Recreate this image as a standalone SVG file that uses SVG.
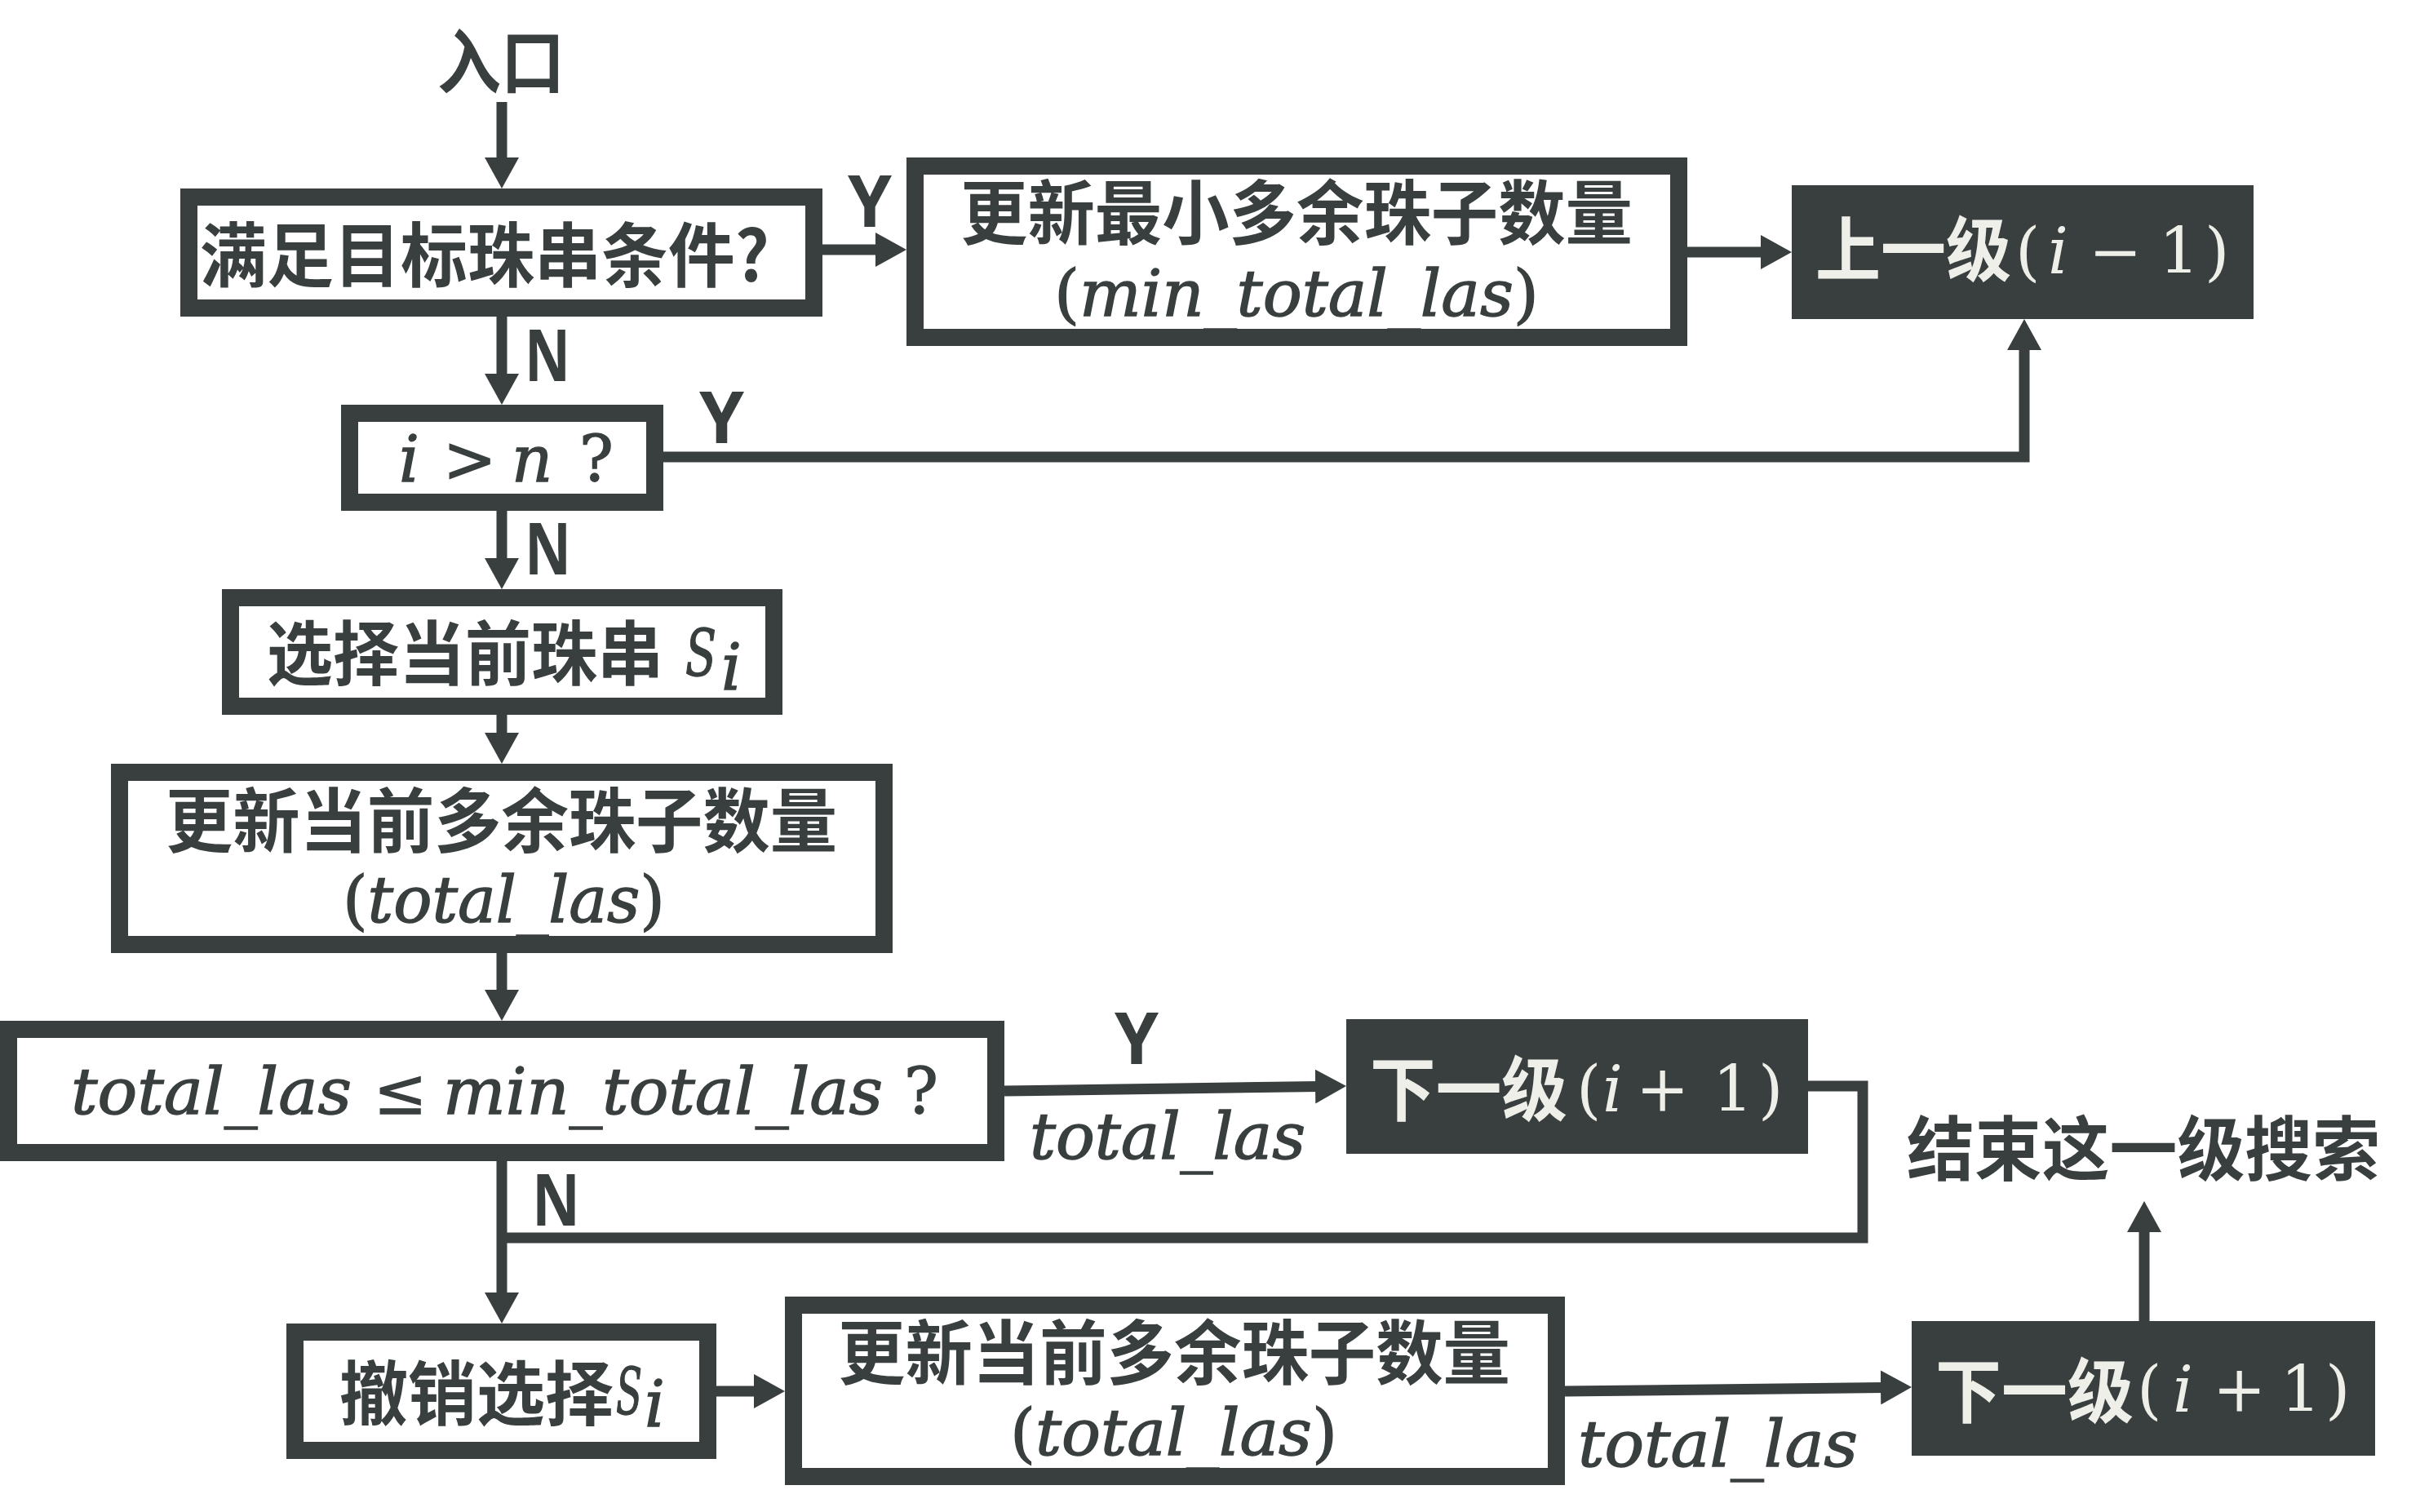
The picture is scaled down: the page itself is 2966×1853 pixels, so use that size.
<svg xmlns="http://www.w3.org/2000/svg" width="2966" height="1853" viewBox="0 0 2966 1853">
<style>
.box{fill:#ffffff;stroke:#393e3e;stroke-width:21}
.dbox{fill:#393e3e}
.cjk{font-family:"Noto Sans CJK SC",sans-serif;font-weight:700;font-size:86px;fill:#393e3e}
.m{font-family:"DejaVu Serif","Liberation Serif",serif;font-style:italic;font-size:78px;fill:#393e3e;stroke:#393e3e;stroke-width:1.4}
.u{font-family:"DejaVu Serif","Liberation Serif",serif;font-style:normal;font-size:78px;fill:#393e3e;stroke:#393e3e;stroke-width:1.4}
.lbl{font-family:"Noto Sans",sans-serif;font-weight:700;font-size:88px;fill:#393e3e}
.w{fill:#efefe9;stroke:none}
.c{fill:none;stroke:#393e3e;stroke-width:13;stroke-linejoin:miter}
.a{marker-end:url(#arr)}
</style>
<defs>
<marker id="arr" markerUnits="userSpaceOnUse" markerWidth="40" markerHeight="42" refX="4" refY="21" orient="auto">
<path d="M0,0 L38,21 L0,42 Z" fill="#393e3e"/>
</marker>
</defs>
<rect width="2966" height="1853" fill="#ffffff"/>

<g id="connectors">
<path class="c a" d="M615,125 V197"/>
<path class="c a" d="M1008,306 H1077"/>
<path class="c a" d="M2068,309 H2162"/>
<path class="c a" d="M615,388 V462"/>
<path class="c a" d="M813,560 H2481 V425"/>
<path class="c a" d="M615,626 V688"/>
<path class="c a" d="M615,876 V902"/>
<path class="c a" d="M615,1168 V1217"/>
<path class="c a" d="M1231,1337 L1616,1331.5"/>
<path class="c" d="M2216,1331 H2283 V1517 H615"/>
<path class="c a" d="M615,1423 V1588"/>
<path class="c a" d="M878,1705 H928"/>
<path class="c a" d="M1918,1705 L2309,1700.4"/>
<path class="c a" d="M2628,1619 V1506"/>
<text class="lbl" x="1039" y="278" textLength="54" lengthAdjust="spacingAndGlyphs">Y</text>
<text class="lbl" x="643" y="467" textLength="56" lengthAdjust="spacingAndGlyphs">N</text>
<text class="lbl" x="857" y="543" textLength="55" lengthAdjust="spacingAndGlyphs">Y</text>
<text class="lbl" x="643" y="704" textLength="57" lengthAdjust="spacingAndGlyphs">N</text>
<text class="lbl" x="1366" y="1304" textLength="54" lengthAdjust="spacingAndGlyphs">Y</text>
<text class="lbl" x="652" y="1502" textLength="59" lengthAdjust="spacingAndGlyphs">N</text>
<text class="m" x="1262" y="1420" font-size="80" textLength="338" lengthAdjust="spacingAndGlyphs">total_las</text>
<text class="m" x="1934" y="1797" font-size="80" textLength="343" lengthAdjust="spacingAndGlyphs">total_las</text>
</g>

<g id="entry">
<text class="cjk" x="536" y="108" textLength="156" lengthAdjust="spacingAndGlyphs">入口</text>
</g>

<g id="check-target">
<rect class="box" x="231.5" y="241.5" width="766" height="136"/>
<text class="cjk" x="245" y="345" textLength="698" lengthAdjust="spacingAndGlyphs">满足目标珠串条件?</text>
</g>

<g id="update-min">
<rect class="box" x="1121.5" y="203.5" width="936" height="210"/>
<text class="cjk" x="1177" y="293" textLength="824" lengthAdjust="spacingAndGlyphs">更新最小多余珠子数量</text>
<text class="m" x="1292" y="387" font-size="80" textLength="594" lengthAdjust="spacingAndGlyphs"><tspan class="u" font-size="80">(</tspan>min_total_las<tspan class="u" font-size="80">)</tspan></text>
</g>

<g id="up-level">
<rect class="dbox" x="2196" y="227" width="566" height="164"/>
<text class="cjk w" x="2225" y="338" textLength="240" lengthAdjust="spacingAndGlyphs">上一级</text>
<text class="u w" x="2470" y="335" font-size="82">(</text>
<text class="m w" x="2510" y="335" font-size="72">i</text>
<text class="u w" x="2560" y="335" font-size="72">−</text>
<text class="u w" x="2646" y="335" font-size="72">1</text>
<text class="u w" x="2702" y="335" font-size="82">)</text>
</g>

<g id="check-i">
<rect class="box" x="428.5" y="506.5" width="374" height="109"/>
<text class="m" x="489" y="590">i</text>
<text class="u" x="543" y="590">&gt;</text>
<text class="m" x="627" y="590">n</text>
<text class="u" x="710" y="590">?</text>
</g>

<g id="select">
<rect class="box" x="282.5" y="732.5" width="666" height="133"/>
<text class="cjk" x="327" y="833" textLength="486" lengthAdjust="spacingAndGlyphs">选择当前珠串</text>
<text class="m" x="840" y="828" font-size="78" textLength="38" lengthAdjust="spacingAndGlyphs">S</text>
<text class="m" x="884" y="845" font-size="54">i</text>
</g>

<g id="update-cur">
<rect class="box" x="146.5" y="946.5" width="937" height="211"/>
<text class="cjk" x="203" y="1038" textLength="823" lengthAdjust="spacingAndGlyphs">更新当前多余珠子数量</text>
<text class="m" x="420" y="1130" font-size="80" textLength="395" lengthAdjust="spacingAndGlyphs"><tspan class="u" font-size="80">(</tspan>total_las<tspan class="u" font-size="80">)</tspan></text>
</g>

<g id="compare">
<rect class="box" x="10.5" y="1261.5" width="1210" height="151"/>
<text class="m" x="87" y="1365" font-size="80" textLength="344" lengthAdjust="spacingAndGlyphs">total_las</text>
<text class="u" x="458" y="1365" font-size="80">≤</text>
<text class="m" x="543" y="1365" font-size="80" textLength="539" lengthAdjust="spacingAndGlyphs">min_total_las</text>
<text class="u" x="1108" y="1365" font-size="80">?</text>
</g>

<g id="next-level-1">
<rect class="dbox" x="1650" y="1249" width="566" height="165"/>
<text class="cjk w" x="1679" y="1367" textLength="242" lengthAdjust="spacingAndGlyphs">下一级</text>
<text class="u w" x="1932" y="1362" font-size="82">(</text>
<text class="m w" x="1964" y="1362" font-size="72">i</text>
<text class="u w" x="2005" y="1362" font-size="72">+</text>
<text class="u w" x="2099" y="1362" font-size="72">1</text>
<text class="u w" x="2155" y="1362" font-size="82">)</text>
</g>

<g id="end-search">
<text class="cjk" x="2337" y="1440" textLength="580" lengthAdjust="spacingAndGlyphs">结束这一级搜索</text>
</g>

<g id="undo">
<rect class="box" x="361.5" y="1632.5" width="506" height="145"/>
<text class="cjk" x="416" y="1740" textLength="336" lengthAdjust="spacingAndGlyphs">撤销选择</text>
<text class="m" x="755" y="1733" font-size="70" textLength="32" lengthAdjust="spacingAndGlyphs">S</text>
<text class="m" x="790" y="1748" font-size="50">i</text>
</g>

<g id="update-cur-2">
<rect class="box" x="972.5" y="1599.5" width="935" height="210"/>
<text class="cjk" x="1027" y="1690" textLength="824" lengthAdjust="spacingAndGlyphs">更新当前多余珠子数量</text>
<text class="m" x="1238" y="1783" font-size="80" textLength="401" lengthAdjust="spacingAndGlyphs"><tspan class="u" font-size="80">(</tspan>total_las<tspan class="u" font-size="80">)</tspan></text>
</g>

<g id="next-level-2">
<rect class="dbox" x="2343" y="1619" width="568" height="165"/>
<text class="cjk w" x="2372" y="1737" textLength="243" lengthAdjust="spacingAndGlyphs">下一级</text>
<text class="u w" x="2619" y="1730" font-size="82">(</text>
<text class="m w" x="2663" y="1730" font-size="72">i</text>
<text class="u w" x="2712" y="1730" font-size="72">+</text>
<text class="u w" x="2795" y="1730" font-size="72">1</text>
<text class="u w" x="2850" y="1730" font-size="82">)</text>
</g>
</svg>
